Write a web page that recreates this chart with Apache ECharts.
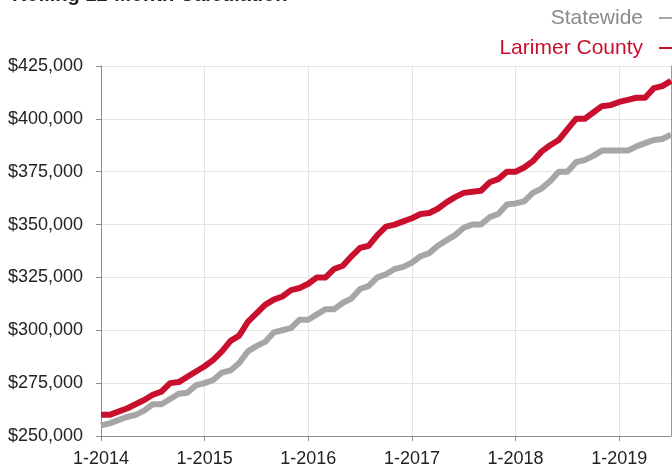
<!DOCTYPE html>
<html>
<head>
<meta charset="utf-8">
<script src="https://cdn.jsdelivr.net/npm/echarts@6/dist/echarts.min.js"></script>
<style>
html,body{margin:0;padding:0;background:#fff;}
#chart{width:672px;height:468px;}
</style>
</head>
<body>
<div id="chart"></div>
<script>
const titleText = 'Rolling 12-Month Calculation';
const years = [2014, 2015, 2016, 2017, 2018, 2019];
const lastMonth2019 = 7;
const seriesNames = ['Statewide', 'Larimer County'];

const statewide = [
  255000, 256000, 257500, 259000, 260000, 262000, 265000, 265000, 267500, 270000, 270500, 274000,
  275000, 276500, 280000, 281000, 284500, 290000, 292500, 294500, 299000, 300000, 301000, 305000,
  305000, 307500, 310000, 310000, 313000, 315000, 319500, 321000, 325000, 326500, 329000, 330000,
  332000, 335000, 336500, 340000, 342500, 345000, 348500, 350000, 350000, 353500, 355000, 359500,
  360000, 361000, 365000, 367000, 370500, 375000, 375000, 379500, 380500, 382500, 385000, 385000,
  385000, 385000, 387000, 388500, 390000, 390500, 392500
];
const larimer = [
  260000, 260000, 261500, 263000, 265000, 267000, 269500, 271000, 275000, 275500, 278000, 280500,
  283000, 286000, 290000, 295000, 297500, 304000, 308000, 312000, 314500, 316000, 319000, 320000,
  322000, 325000, 325000, 329000, 330500, 335000, 339000, 340000, 345000, 349000, 350000, 351500,
  353000, 355000, 355500, 357500, 360500, 363000, 365000, 365500, 366000, 370000, 371500, 375000,
  375000, 377000, 380000, 384500, 387500, 390000, 395000, 400000, 400000, 403000, 406000, 406500,
  408000, 409000, 410000, 410000, 414500, 415500, 418000
];
const yMin = 250000, yMax = 425000, yStep = 25000;

const months = [];
years.forEach(function (y) {
  const last = (y === 2019) ? lastMonth2019 : 12;
  for (let m = 1; m <= last; m++) months.push(m + '-' + y);
});

const FONT = '"Liberation Sans", Arial, Helvetica, sans-serif';
const RED = '#c8102e';
const GRAY = '#a6a6a6';

const chart = echarts.init(document.getElementById('chart'));
chart.setOption({
  animation: false,
  backgroundColor: '#fff',
  title: {
    text: titleText,
    left: 12,
    top: -15,
    padding: 0,
    textStyle: { fontFamily: FONT, fontSize: 20, fontWeight: 'bold', color: '#222' }
  },
  legend: {
    orient: 'vertical',
    right: -17,
    top: 6,
    padding: 0,
    align: 'right',
    itemGap: 6,
    itemWidth: 30,
    itemHeight: 14,
    icon: 'path://M0,6 L30,6 L30,8 L0,8 Z',
    textStyle: { fontFamily: FONT, fontSize: 21, lineHeight: 24, padding: [0, 11, 0, 0] },
    data: [
      { name: seriesNames[0], textStyle: { color: '#8a8a8a' } },
      { name: seriesNames[1], textStyle: { color: RED } }
    ]
  },
  grid: { left: 101, right: 1, top: 66, bottom: 32, containLabel: false },
  xAxis: {
    type: 'category',
    data: months,
    boundaryGap: false,
    axisLine: { lineStyle: { color: '#8c8c8c', width: 1 } },
    axisTick: { show: true, interval: 11, length: 5, lineStyle: { color: '#8c8c8c' } },
    axisLabel: { interval: 11, margin: 14, fontFamily: FONT, fontSize: 18, color: '#222' },
    splitLine: { show: true, interval: 11, lineStyle: { color: '#e4e4e4', width: 1 } }
  },
  yAxis: [{
    type: 'value',
    min: yMin, max: yMax, interval: yStep,
    axisLine: { show: true, lineStyle: { color: '#8c8c8c', width: 1 } },
    axisTick: { show: true, length: 5, lineStyle: { color: '#8c8c8c' } },
    axisLabel: {
      margin: 18, fontFamily: FONT, fontSize: 18, color: '#222',
      formatter: function (v) { return '$' + v.toLocaleString('en-US'); }
    },
    splitLine: { show: true, lineStyle: { color: '#e4e4e4', width: 1 } }
  }, {
    type: 'value',
    position: 'right',
    min: yMin, max: yMax, interval: yStep,
    axisLine: { show: true, lineStyle: { color: '#9a9a9a', width: 1 } },
    axisTick: { show: false },
    axisLabel: { show: false },
    splitLine: { show: false }
  }],
  series: [
    {
      name: seriesNames[0], type: 'line', data: statewide,
      symbol: 'none', color: GRAY,
      lineStyle: { color: GRAY, width: 6, join: 'round' }, z: 2
    },
    {
      name: seriesNames[1], type: 'line', data: larimer,
      symbol: 'none', color: RED,
      lineStyle: { color: RED, width: 6, join: 'round' }, z: 3
    }
  ]
});
</script>
</body>
</html>
